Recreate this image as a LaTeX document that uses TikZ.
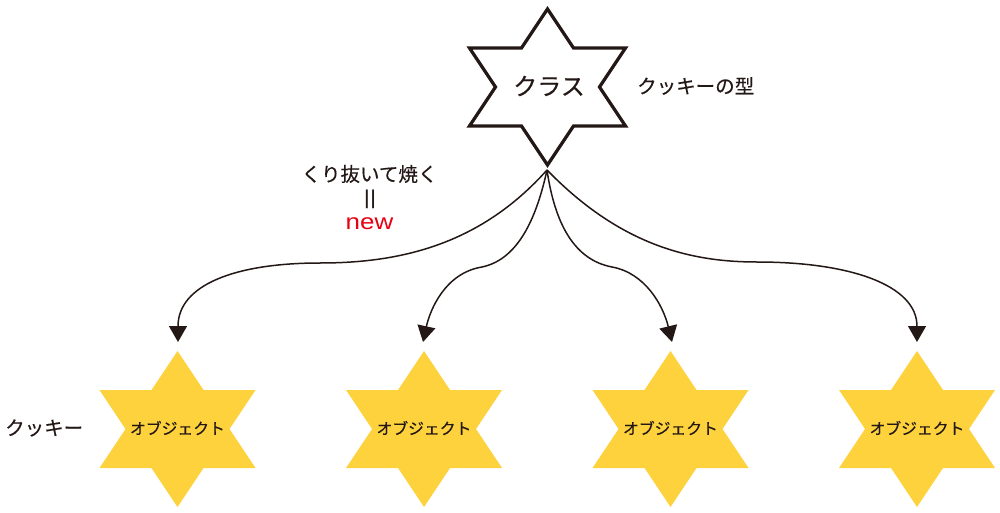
\documentclass[tikz,border=0pt]{standalone}
\usepackage{fontspec}
\usepackage{xcolor}
\usetikzlibrary{positioning, arrows.meta}
\setmainfont[FakeBold=0.35]{Noto Sans CJK JP}
\newfontfamily\widefont[FakeStretch=1.18]{Liberation Sans}
\definecolor{inkblack}{HTML}{231815}
\definecolor{cookieyellow}{HTML}{FDD23C}
\definecolor{newred}{HTML}{E60012}
\newcommand{\sixstar}[2]{\path[#2] (#1) ++(0,-78) -- ++(26,39) -- ++(52,0) -- ++(-26,39) -- ++(26,39) -- ++(-52,0) -- ++(-26,39) -- ++(-26,-39) -- ++(-52,0) -- ++(26,-39) -- ++(-26,-39) -- ++(52,0) -- cycle;}

\begin{document}
\begin{tikzpicture}[x=1pt, y=-1pt, >={Triangle[length=16pt, width=18pt]}, text=inkblack,
    word/.style={inner sep=0pt, font=\fontsize{19.5}{19.5}\selectfont},
    object/.style={inner sep=0pt, font=\fontsize{15.8}{15.8}\selectfont},
    mold/.style={draw=inkblack, line width=3.3pt, miter limit=10},
    cookie/.style={fill=cookieyellow},
    bake/.style={->, draw=inkblack, line width=1.5pt}]
        \useasboundingbox (0,0) rectangle (1000,513);
        \sixstar{547.5,87}{mold}
        \sixstar{177.5,429}{cookie}
        \sixstar{424,429}{cookie}
        \sixstar{670.5,429}{cookie}
        \sixstar{917,429}{cookie}
        \node[inner sep=0pt, font=\fontsize{24}{24}\selectfont] at (549,86) (class) {クラス};
        \node[word, anchor=west] at (637,86) (mold label) {クッキーの型};
        \node[word, anchor=west] at (5,428) (cookie label) {クッキー};
        \node[word] at (369.5,174) (bake label) {くり抜いて焼く};
        \node[inner sep=0pt, font=\widefont\fontsize{20}{20}\selectfont] at (370,199) (equal) {||};
        \node[inner sep=0pt, text=newred, font=\widefont\fontsize{22}{22}\selectfont, anchor=base] at (369.5,229) (new) {new};
        \node[object] at (177.5,428) (obj1) {オブジェクト};
        \node[object] at (424,428) (obj2) {オブジェクト};
        \node[object] at (670.5,428) (obj3) {オブジェクト};
        \node[object] at (917,428) (obj4) {オブジェクト};
        \coordinate (tip) at (547,170);
        \coordinate (in1) at (178,342);
        \coordinate (in2) at (423,342);
        \coordinate (in3) at (672,342);
        \coordinate (in4) at (917,342);
        \draw[bake] (tip) .. controls (480,245) and (400,263) .. (320,263) .. controls (235,263) and (178,285) .. (in1);
        \draw[bake] (tip) .. controls (535,225) and (515,260) .. (482,267) .. controls (445,273) and (430,310) .. (in2);
        \draw[bake] (tip) .. controls (555,225) and (575,260) .. (612,267) .. controls (645,273) and (663,305) .. (in3);
        \draw[bake] (tip) .. controls (620,245) and (690,262) .. (757,262) .. controls (850,262) and (917,285) .. (in4);
  \end{tikzpicture}
\end{document}
